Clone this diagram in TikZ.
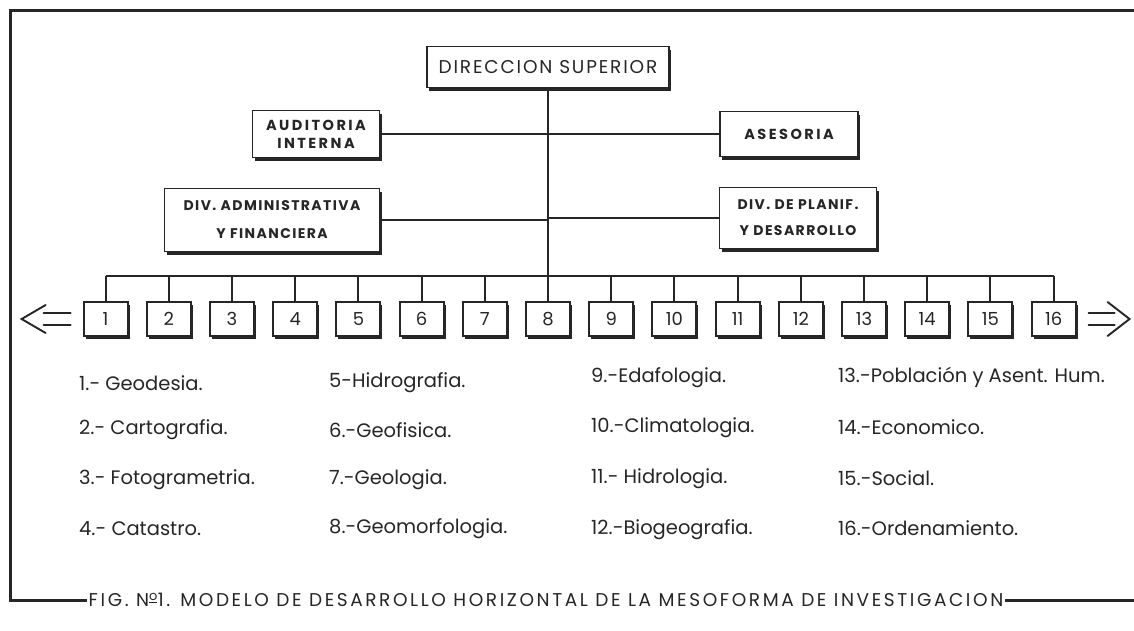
\documentclass[tikz,border=0pt]{standalone}
\usepackage{fontspec}
\setmainfont{Poppins}
\newfontfamily\widecaps[LetterSpace=10.0]{Poppins}
\newfontfamily\widercaps[LetterSpace=17.0]{Poppins}
\newfontfamily\titlecaps[LetterSpace=14.0]{Poppins}
\usepackage{tikz}
\usetikzlibrary{calc,positioning,shadows}
\definecolor{inkline}{HTML}{262626}
\definecolor{inktext}{HTML}{262626}
\tikzset{
  orgbox/.style={draw=inkline,line width=1.9pt,fill=white,inner sep=0pt,align=center,
    text=inktext,drop shadow={shadow xshift=2pt,shadow yshift=-3pt,fill=inkline,opacity=1}},
  staffbox/.style={orgbox,font=\widecaps\bfseries\fontsize{14}{18}\selectfont},
  unitbox/.style={orgbox,minimum width=44pt,minimum height=34pt,font=\fontsize{18}{20}\selectfont},
  link/.style={draw=inkline,line width=2.1pt},
  frameline/.style={draw=inkline,line width=3pt},
  legend/.style={anchor=west,inner sep=0pt,text=inktext,font=\fontsize{19.5}{22}\selectfont},
  wayout/.style={draw=inkline,line width=1.9pt,line join=miter,line cap=round},
  caption/.style={inner sep=2pt,fill=white,text=inktext,font=\titlecaps\fontsize{18.5}{20}\selectfont}
}

\begin{document}
\begin{tikzpicture}[x=1pt,y=-1pt]
  \useasboundingbox[fill=white] (0,0) rectangle (1134,630);
  % direccion y staff
  \node[orgbox,minimum width=242pt,minimum height=41pt,font=\widecaps\fontsize{18.5}{20}\selectfont] (dir) at (548,67) {DIRECCION SUPERIOR};
  \node[staffbox,minimum width=127pt,minimum height=47pt,font=\widercaps\bfseries\fontsize{14.5}{18}\selectfont] (aud) at (316,134) {AUDITORIA\\INTERNA};
  \node[staffbox,minimum width=138pt,minimum height=45pt,font=\widercaps\bfseries\fontsize{14.5}{18}\selectfont] (ase) at (789,134) {ASESORIA};
  \node[staffbox,minimum width=215pt,minimum height=63pt] (adm) at (272,220) {DIV. ADMINISTRATIVA\\[10pt]Y FINANCIERA};
  \node[staffbox,minimum width=157pt,minimum height=61pt] (pla) at (798,218) {DIV. DE PLANIF.\\[8pt]Y DESARROLLO};
  % unidades
  \foreach \i in {1,...,16}{
    \node[unitbox] (u\i) at ({548+63.2*(\i-8)},319) {\i};
  }
  \coordinate (bus) at (548,276);
  \draw[link] (dir.south) -- (dir.south |- u8.north);
  \draw[link] (aud.east) -- (aud.east -| dir.south);
  \draw[link] (ase.west) -- (ase.west -| dir.south);
  \draw[link] (adm.east) -- (adm.east -| dir.south);
  \draw[link] (pla.west) -- (pla.west -| dir.south);
  \draw[link] (u1.north |- bus) -- (u16.north |- bus);
  \foreach \i in {1,...,16}{
    \draw[link] (u\i.north) -- (u\i.north |- bus);
  }
  % flechas
  \draw[wayout] ($(u1.west)+(-12,-6)$) -- ++(-27,0);
  \draw[wayout] ($(u1.west)+(-12,6)$) -- ++(-27,0);
  \draw[wayout] ($(u1.west)+(-37,-14)$) -- ++(-24,14) -- ++(24,14);
  \draw[wayout] ($(u16.east)+(12,-6)$) -- ++(26,0);
  \draw[wayout] ($(u16.east)+(12,6)$) -- ++(26,0);
  \draw[wayout] ($(u16.east)+(31,-17)$) -- ++(22,17) -- ++(-22,17);
  % leyenda
  \foreach \n/\lx/\ly/\txt in {
    1/79/383/{1.- Geodesia.}, 2/79/430/{2.- Cartografia.}, 3/79/480/{3.- Fotogrametria.}, 4/79/529/{4.- Catastro.},
    5/329/383/{5-Hidrografia.}, 6/329/430/{6.-Geofisica.}, 7/329/480/{7.-Geologia.}, 8/329/529/{8.-Geomorfologia.},
    9/591/378/{9.-Edafologia.}, 10/591/428/{10.-Climatologia.}, 11/591/479/{11.- Hidrologia.}, 12/591/530/{12.-Biogeografia.},
    13/838/377/{13.-Población y Asent. Hum.}, 14/838/427/{14.-Economico.}, 15/838/478/{15.-Social.}, 16/838/528/{16.-Ordenamiento.}}{
    \node[legend] (l\n) at (\lx,\ly) {\txt};
  }
  % marco y titulo
  \node[caption] (cap) at (546,600) {FIG. N\textsuperscript{\underline{o}}1. MODELO DE DESARROLLO HORIZONTAL DE LA MESOFORMA DE INVESTIGACION};
  \draw[frameline] (cap.west) -- (10,600) -- (10,10) -- (1134,10);
  \draw[frameline] (cap.east) -- (1134,600);
\end{tikzpicture}
\end{document}
